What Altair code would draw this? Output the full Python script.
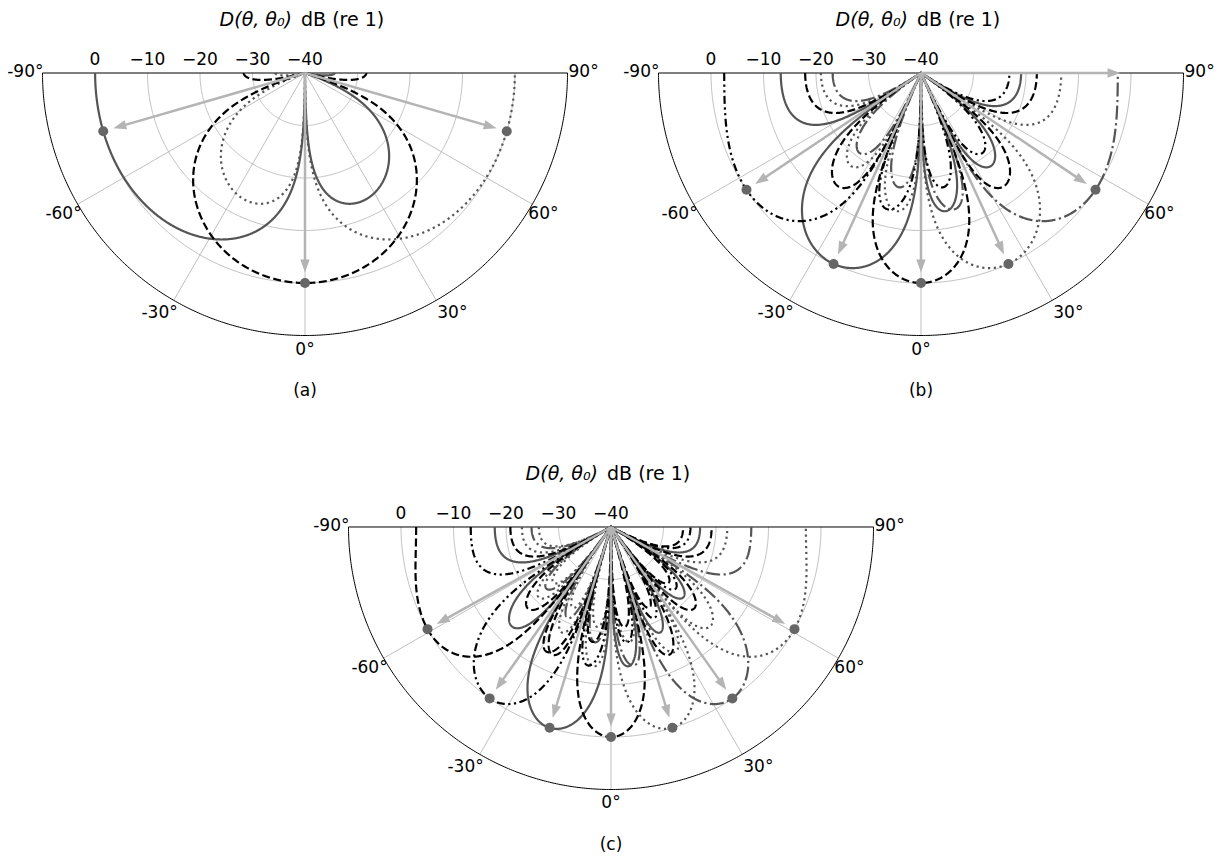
import numpy as np
import pandas as pd
import altair as alt

alt.data_transformers.disable_max_rows()

# ---------------- data ----------------
PANEL_NAMES = ["(a)", "(b)", "(c)"]
# line-array length in wavelengths for each panel (from the beam spacing)
APERTURE = [1.04, 2.41, 3.44]
# steering angles (degrees) of the beams
STEER = [
    [-73.9, 0.0, 73.9],
    [-56.2, -24.6, 0.0, 24.6, 56.2],
    [-60.9, -35.3, -17.0, 0.0, 17.0, 35.3, 60.9],
]
# line style of each beam
STYLES = [
    ["solid", "dashed", "dotted"],
    ["dashdotdot", "solid", "dashed", "dotted", "dashdot"],
    ["dashed", "dashdotdot", "solid", "dashed", "dotted", "dashdot", "dotted"],
]
# arrows drawn without a beam dot
EXTRA_ARROWS = [[], [90.0], []]
RADIAL_TICKS = [0, -10, -20, -30, -40]
RADIAL_TICK_LABELS = ["0", "\u221210", "\u221220", "\u221230", "\u221240"]
RADIAL_GRID = [-30, -20, -10, 0]
ANGLE_TICKS = [-90, -60, -30, 0, 30, 60, 90]
ANGLE_LABELS = ["-90°", "-60°", "-30°", "0°", "30°", "60°", "90°"]
DB_MIN, DB_MAX = -40.0, 10.0
TITLE_ITALIC = "D(θ, θ₀)"
TITLE_REST = "dB (re 1)"

# ---------------- layout / style ----------------
PX = 5.25                      # pixels per dB
W, H = 1207, 846
CENTERS = [(0.0, 0.0), (117.333, 0.0), (58.286, 86.476)]
X0 = -(305 - 8) / PX
Y0 = -(73 - 8) / PX
XDOM = [X0, X0 + W / PX]
YDOM = [Y0, Y0 + H / PX]
FONT = "DejaVu Sans"
FS = 17
TFS = 19

DASH = {
    "solid": None,
    "dashed": [8, 3.5],
    "dotted": [2.2, 3.6],
    "dashdot": [14, 3.5, 2.2, 3.5],
    "dashdotdot": [8, 3.5, 2.2, 3.5, 2.2, 3.5],
}
COLOR = {
    "solid": "#555555",
    "dashed": "#000000",
    "dotted": "#555555",
    "dashdot": "#555555",
    "dashdotdot": "#000000",
}
R_OUT = DB_MAX - DB_MIN
R_TIP = 38.0

# ---------------- build tables ----------------
theta = np.linspace(-90.0, 90.0, 1441)
th = np.radians(theta)

curve_rows = []
for p in range(3):
    cx, cy = CENTERS[p]
    for j, (t0, st) in enumerate(zip(STEER[p], STYLES[p])):
        d = np.abs(np.sinc(APERTURE[p] * (np.sin(th) - np.sin(np.radians(t0)))))
        db = 20 * np.log10(np.maximum(d, 1e-12))
        r = np.clip(db, DB_MIN, DB_MAX) - DB_MIN
        x = cx + r * np.sin(th)
        y = cy + r * np.cos(th)
        for i in range(len(th)):
            curve_rows.append({"cid": f"{p}-{j}", "style": st, "i": i,
                               "x": round(float(x[i]), 3), "y": round(float(y[i]), 3)})
curves = pd.DataFrame(curve_rows)

tg = np.linspace(-90.0, 90.0, 361)
tgr = np.radians(tg)
ring_rows = []
for p in range(3):
    cx, cy = CENTERS[p]
    for g in RADIAL_GRID + [DB_MAX]:
        r = g - DB_MIN
        for i in range(len(tg)):
            ring_rows.append({"gid": f"{p}-{g}", "outer": int(g == DB_MAX), "i": i,
                              "x": cx + r * np.sin(tgr[i]), "y": cy + r * np.cos(tgr[i])})
rings = pd.DataFrame(ring_rows)

spoke_rows, top_rows, arrow_rows, dot_rows = [], [], [], []
tick_rows, title_rows, lab_rows, cap_rows = [], [], [], []
for p in range(3):
    cx, cy = CENTERS[p]
    for a in ANGLE_TICKS:
        if abs(a) < 90:
            ar = np.radians(a)
            spoke_rows.append({"x": cx, "y": cy, "x2": cx + R_OUT * np.sin(ar),
                               "y2": cy + R_OUT * np.cos(ar)})
    top_rows.append({"x": cx - R_OUT, "y": cy, "x2": cx + R_OUT, "y2": cy})
    for a in STEER[p] + EXTRA_ARROWS[p]:
        ar = np.radians(a)
        arrow_rows.append({"x": cx, "y": cy,
                           "x2": cx + (R_TIP - 1.5) * np.sin(ar),
                           "y2": cy + (R_TIP - 1.5) * np.cos(ar),
                           "tx": cx + R_TIP * np.sin(ar), "ty": cy + R_TIP * np.cos(ar),
                           "rot": (-a) % 360})
    for a in STEER[p]:
        ar = np.radians(a)
        dot_rows.append({"x": cx + (0 - DB_MIN) * np.sin(ar), "y": cy + (0 - DB_MIN) * np.cos(ar)})
    for t, lab in zip(RADIAL_TICKS, RADIAL_TICK_LABELS):
        tick_rows.append({"x": cx - (t - DB_MIN), "y": cy, "label": lab})
    title_rows.append({"x": cx, "y": cy, "t1": TITLE_ITALIC, "t2": TITLE_REST})
    for a, lab in zip(ANGLE_TICKS, ANGLE_LABELS):
        ar = np.radians(a)
        lab_rows.append({"x": cx + R_OUT * np.sin(ar), "y": cy + R_OUT * np.cos(ar),
                         "a": a, "label": lab})
    cap_rows.append({"x": cx, "y": cy, "label": PANEL_NAMES[p]})

spokes = pd.DataFrame(spoke_rows)
tops = pd.DataFrame(top_rows)
arrows = pd.DataFrame(arrow_rows)
dots = pd.DataFrame(dot_rows)
ticks = pd.DataFrame(tick_rows)
titles = pd.DataFrame(title_rows)
labs = pd.DataFrame(lab_rows)
caps = pd.DataFrame(cap_rows)

XS = alt.Scale(domain=XDOM, nice=False, zero=False)
YS = alt.Scale(domain=YDOM, nice=False, zero=False, reverse=True)
X = alt.X("x:Q", scale=XS, axis=None)
Y = alt.Y("y:Q", scale=YS, axis=None)

ring_layer = alt.Chart(rings).transform_filter(alt.datum.outer == 0).mark_line(
    strokeWidth=0.8, color="#b0b0b0").encode(x=X, y=Y, detail="gid:N", order="i:Q")
outer_layer = alt.Chart(rings).transform_filter(alt.datum.outer == 1).mark_line(
    strokeWidth=1.0, color="#000000").encode(x=X, y=Y, detail="gid:N", order="i:Q")
spoke_layer = alt.Chart(spokes).mark_rule(color="#b0b0b0", strokeWidth=0.8).encode(
    x=X, y=Y, x2="x2:Q", y2="y2:Q")
top_layer = alt.Chart(tops).mark_rule(color="#000000", strokeWidth=1.0).encode(
    x=X, y=Y, x2="x2:Q", y2="y2:Q")

curve_layers = []
for s in ["dotted", "dashdot", "solid", "dashdotdot", "dashed"]:
    kw = dict(strokeWidth=2.2, strokeJoin="round", color=COLOR[s])
    if DASH[s] is not None:
        kw["strokeDash"] = DASH[s]
    curve_layers.append(
        alt.Chart(curves).transform_filter(alt.datum.style == s).mark_line(**kw).encode(
            x=X, y=Y, detail="cid:N", order="i:Q")
    )

shaft_layer = alt.Chart(arrows).mark_rule(color="#b4b4b4", strokeWidth=2.5).encode(
    x=X, y=Y, x2="x2:Q", y2="y2:Q")
head_layer = alt.Chart(arrows).mark_point(
    shape="M0,0L-0.36,-1L0.36,-1Z", filled=True, size=676, color="#b4b4b4", opacity=1, strokeWidth=0
).encode(
    x=alt.X("tx:Q", scale=XS, axis=None),
    y=alt.Y("ty:Q", scale=YS, axis=None),
    angle=alt.Angle("rot:Q", scale=None),
)
dot_layer = alt.Chart(dots).mark_circle(size=100, color="#666666", opacity=1).encode(x=X, y=Y)

tick_layer = alt.Chart(ticks).mark_text(font=FONT, fontSize=FS, dy=-8, baseline="alphabetic",
                                        align="center", color="black").encode(x=X, y=Y, text="label:N")
title1 = alt.Chart(titles).mark_text(font=FONT, fontSize=TFS, fontStyle="italic", align="right",
                                     baseline="alphabetic", dx=-13, dy=-47, color="black").encode(
    x=X, y=Y, text="t1:N")
title2 = alt.Chart(titles).mark_text(font=FONT, fontSize=TFS, align="left",
                                     baseline="alphabetic", dx=-4, dy=-47, color="black").encode(
    x=X, y=Y, text="t2:N")
cap_layer = alt.Chart(caps).mark_text(font=FONT, fontSize=FS, align="center", baseline="alphabetic",
                                      dy=323, color="black").encode(x=X, y=Y, text="label:N")

LAB_STYLE = {
    -90: dict(align="right", baseline="middle", dx=1, dy=-1),
    -60: dict(align="right", baseline="top", dx=4, dy=2),
    -30: dict(align="right", baseline="top", dx=4, dy=5),
    0: dict(align="center", baseline="top", dx=0, dy=6),
    30: dict(align="left", baseline="top", dx=1, dy=5),
    60: dict(align="left", baseline="top", dx=-4, dy=2),
    90: dict(align="left", baseline="middle", dx=1, dy=-1),
}
lab_layers = []
for a in ANGLE_TICKS:
    lab_layers.append(
        alt.Chart(labs).transform_filter(alt.datum.a == a).mark_text(
            font=FONT, fontSize=FS, color="black", **LAB_STYLE[a]
        ).encode(x=X, y=Y, text="label:N")
    )

chart = alt.layer(
    ring_layer, spoke_layer, outer_layer, top_layer, *curve_layers, shaft_layer, head_layer, dot_layer,
    tick_layer, title1, title2, cap_layer, *lab_layers
).properties(
    width=W, height=H, autosize=alt.AutoSizeParams(type="none"), padding=0, background="white"
).configure_view(strokeWidth=0)

chart.save("out.html", embed_options={"renderer": "svg", "actions": False})
